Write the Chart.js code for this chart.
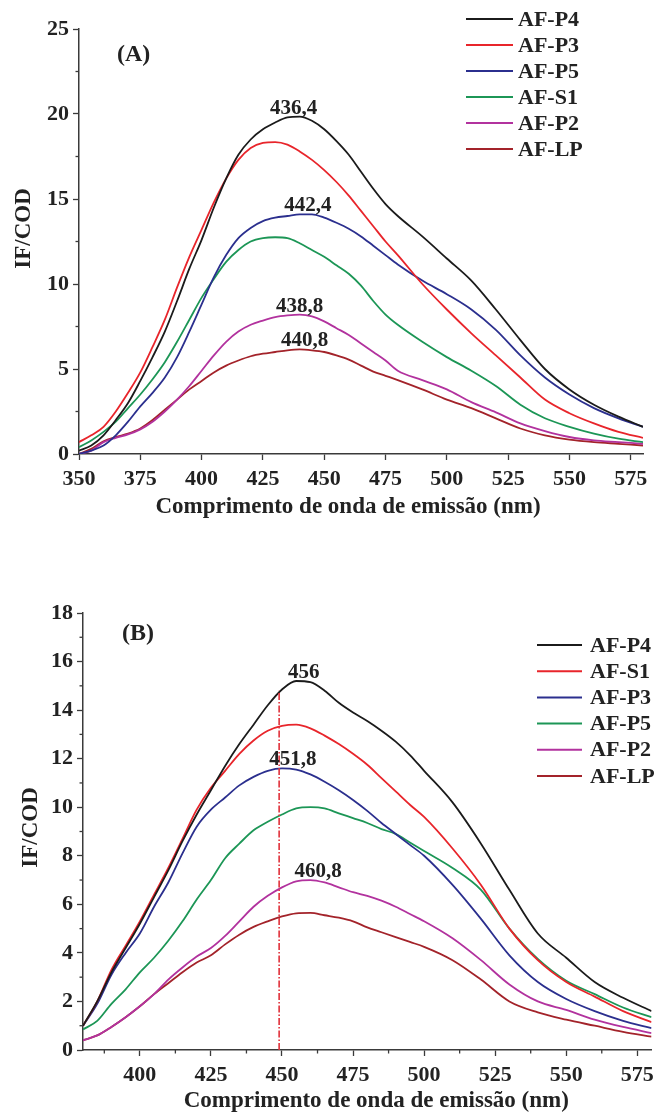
<!DOCTYPE html>
<html>
<head>
<meta charset="utf-8">
<script src="https://cdn.jsdelivr.net/npm/chart.js@4.4.0/dist/chart.umd.min.js"></script>
<style>
  html, body { margin: 0; padding: 0; background: #fff; }
  #wrapA { position: absolute; left: 0; top: 0; width: 660px; height: 520px; }
  #wrapB { position: absolute; left: 0; top: 540px; width: 660px; height: 575px; }
</style>
</head>
<body>
<div id="wrapA"><canvas id="chartA" width="660" height="520"></canvas></div>
<div id="wrapB"><canvas id="chartB" width="660" height="575"></canvas></div>
<script>
// panel (A)
const waveA = [350,355,360,365,370,375,380,385,390,395,400,405,410,415,420,425,430,435,440,445,450,455,460,465,470,475,480,490,500,510,520,530,540,550,560,570,580];
const aP4 = [0.2,0.5,1.1,2.0,3.0,4.3,5.7,7.2,9.0,10.9,12.6,14.5,16.2,17.6,18.5,19.1,19.5,19.8,19.85,19.6,19.1,18.4,17.6,16.6,15.6,14.7,14.0,12.8,11.5,10.2,8.5,6.7,5.0,3.8,2.9,2.2,1.6];
const aP3 = [0.7,1.1,1.6,2.5,3.6,4.8,6.3,7.9,9.8,11.6,13.2,14.8,16.2,17.3,18.0,18.3,18.35,18.2,17.8,17.3,16.7,16.0,15.2,14.3,13.4,12.5,11.7,10.0,8.5,7.1,5.8,4.5,3.2,2.4,1.8,1.3,0.95];
const aP5 = [0.0,0.2,0.5,1.1,1.9,2.8,3.6,4.5,5.7,7.2,8.8,10.4,11.7,12.7,13.3,13.7,13.9,14.0,14.1,14.1,13.9,13.6,13.25,12.8,12.25,11.7,11.15,10.2,9.4,8.5,7.3,5.8,4.5,3.5,2.7,2.1,1.6];
const aS1 = [0.4,0.8,1.3,1.9,2.7,3.5,4.4,5.4,6.6,7.9,9.2,10.3,11.3,12.0,12.5,12.7,12.75,12.7,12.4,12.0,11.6,11.1,10.6,9.9,9.0,8.2,7.6,6.6,5.7,4.9,4.0,2.9,2.1,1.6,1.2,0.9,0.7];
const aP2 = [0.0,0.2,0.7,0.95,1.15,1.45,1.9,2.5,3.2,4.0,4.9,5.8,6.6,7.2,7.6,7.85,8.05,8.15,8.2,8.1,7.8,7.4,7.0,6.5,6.0,5.5,4.9,4.35,3.8,3.05,2.45,1.8,1.35,1.0,0.8,0.7,0.6];
const aLP = [0.0,0.3,0.75,1.0,1.2,1.5,2.0,2.6,3.2,3.8,4.3,4.8,5.2,5.5,5.75,5.9,6.0,6.1,6.15,6.1,6.0,5.8,5.55,5.2,4.85,4.6,4.35,3.8,3.2,2.7,2.1,1.5,1.1,0.85,0.7,0.6,0.5];
const namesA = ['AF-P4','AF-P3','AF-P5','AF-S1','AF-P2','AF-LP'];
const peakTextA = ['436,4','442,4','438,8','440,8'];
const peakNmA = [437.5, 443.3, 440, 442];
const peakSeriesA = [0, 2, 4, 5];

// panel (B)
const waveB = [380,385,390,395,400,405,410,415,420,425,430,435,440,445,450,455,460,465,470,475,480,485,490,495,500,510,520,530,540,550,560,570,580];
const bP4 = [1.0,2.0,3.2,4.2,5.2,6.3,7.4,8.6,9.7,10.7,11.7,12.6,13.4,14.2,14.85,15.2,15.15,14.8,14.3,13.9,13.55,13.15,12.7,12.15,11.5,10.2,8.5,6.6,4.8,3.8,2.8,2.15,1.6];
const bS1 = [1.0,2.0,3.3,4.3,5.3,6.4,7.5,8.7,9.9,10.8,11.5,12.2,12.75,13.15,13.35,13.4,13.25,12.95,12.6,12.2,11.75,11.2,10.65,10.1,9.6,8.3,6.8,5.0,3.7,2.8,2.2,1.6,1.15];
const bP3 = [1.0,1.9,3.1,4.0,4.8,5.9,6.9,8.1,9.2,9.9,10.4,10.9,11.25,11.5,11.6,11.55,11.35,11.05,10.7,10.3,9.85,9.35,8.9,8.45,8.0,6.8,5.4,3.9,2.8,2.1,1.6,1.2,0.9];
const bP5 = [0.85,1.2,1.9,2.5,3.2,3.8,4.5,5.3,6.2,7.0,7.9,8.5,9.05,9.4,9.7,9.95,10.0,9.95,9.75,9.55,9.35,9.1,8.9,8.55,8.2,7.5,6.6,5.0,3.75,2.85,2.3,1.75,1.35];
const bP2 = [0.4,0.6,0.95,1.35,1.8,2.3,2.9,3.4,3.85,4.2,4.7,5.3,5.9,6.35,6.7,6.95,7.0,6.9,6.7,6.5,6.35,6.15,5.9,5.6,5.3,4.6,3.7,2.7,2.0,1.65,1.25,0.95,0.7];
const bLP = [0.4,0.6,0.95,1.35,1.8,2.3,2.75,3.2,3.6,3.9,4.35,4.75,5.07,5.3,5.5,5.63,5.65,5.55,5.45,5.3,5.05,4.85,4.65,4.45,4.25,3.7,2.9,2.0,1.55,1.25,1.0,0.75,0.55];
const namesB = ['AF-P4','AF-S1','AF-P3','AF-P5','AF-P2','AF-LP'];
const peakTextB = ['456','451,8','460,8'];
const peakNmB = [457.7, 453.8, 462.7];
const peakSeriesB = [0, 2, 4];
const markerNmB = 449;
const markerTopB = 14.8;

const xTitle = 'Comprimento de onda de emissão (nm)';
const yTitle = 'IF/COD';

const colors = ['#1b1b1b', '#e8252b', '#2b2f8e', '#1c9656', '#b2329e', '#a3232a'];
const serif = '"Liberation Serif", "Times New Roman", serif';
const inkColor = '#222';
const axisColor = '#3a3a3a';

const overlay = {
  id: 'overlay',
  afterDatasetsDraw(chart, args, o) {
    const ctx = chart.ctx;
    const xs = chart.scales.x, ys = chart.scales.y;
    const area = chart.chartArea;
    ctx.save();

    // minor ticks halfway between the major ones
    ctx.strokeStyle = axisColor;
    ctx.lineWidth = 1.3;
    const minor = (scale, horizontal) => {
      const t = scale.ticks.map(k => k.value);
      if (t.length < 2) return;
      const step = t[1] - t[0];
      for (let v = t[0] - step / 2; v <= scale.max; v += step) {
        if (v < scale.min) continue;
        const p = scale.getPixelForValue(v);
        ctx.beginPath();
        if (horizontal) { ctx.moveTo(p, area.bottom); ctx.lineTo(p, area.bottom + 3.5); }
        else { ctx.moveTo(area.left, p); ctx.lineTo(area.left - 3.5, p); }
        ctx.stroke();
      }
    };
    if (o.minorX) minor(xs, true);
    if (o.minorY) minor(ys, false);

    // dash-dot marker line
    if (o.markerNm) {
      ctx.strokeStyle = '#e0303a';
      ctx.lineWidth = 1.6;
      ctx.setLineDash([7, 2, 1.5, 2]);
      const px = xs.getPixelForValue(o.markerNm);
      ctx.beginPath();
      ctx.moveTo(px, ys.getPixelForValue(0));
      ctx.lineTo(px, ys.getPixelForValue(o.markerTop));
      ctx.stroke();
      ctx.setLineDash([]);
    }

    // peak labels
    ctx.fillStyle = inkColor;
    ctx.font = 'bold 21px ' + serif;
    ctx.textAlign = 'center';
    ctx.textBaseline = 'alphabetic';
    o.peakText.forEach((txt, i) => {
      const ds = chart.data.datasets[o.peakSeries[i]];
      const top = Math.max(...ds.data.map(d => d.y));
      ctx.fillText(txt, xs.getPixelForValue(o.peakNm[i]), ys.getPixelForValue(top) - 3);
    });

    // axis titles
    ctx.font = 'bold 23px ' + serif;
    ctx.fillText(xTitle, (area.left + area.right) / 2 + o.xTitleDx, o.xTitleY);
    ctx.save();
    ctx.translate(o.yTitleX, (area.top + area.bottom) / 2 + o.yTitleDy);
    ctx.rotate(-Math.PI / 2);
    ctx.textBaseline = 'middle';
    ctx.fillText(yTitle, 0, 0);
    ctx.restore();

    // panel letter
    ctx.font = 'bold 24px ' + serif;
    ctx.textAlign = 'left';
    ctx.textBaseline = 'middle';
    ctx.fillText(o.panel, area.left + o.panelDx, area.top + o.panelDy);

    // legend inside the plot
    ctx.font = 'bold 22px ' + serif;
    chart.data.datasets.forEach((ds, i) => {
      const y = o.legY + i * o.legRow;
      ctx.strokeStyle = ds.borderColor;
      ctx.lineWidth = 2;
      ctx.beginPath();
      ctx.moveTo(o.legX0, y);
      ctx.lineTo(o.legX1, y);
      ctx.stroke();
      ctx.fillStyle = inkColor;
      ctx.fillText(ds.label, o.legText, y + 1);
    });
    ctx.restore();
  }
};

function makeChart(id, wave, series, names, cfg) {
  const datasets = series.map((vals, i) => ({
    label: names[i],
    data: wave.map((w, j) => ({ x: w, y: vals[j] })),
    borderColor: colors[i],
    borderWidth: 1.8,
    pointRadius: 0,
    fill: false,
    cubicInterpolationMode: 'monotone'
  }));
  const tickFont = { family: serif, size: 22, weight: 'bold' };
  return new Chart(document.getElementById(id), {
    type: 'line',
    data: { datasets },
    options: {
      responsive: false,
      animation: false,
      events: [],
      layout: { padding: { top: cfg.padTop, right: cfg.padRight, left: 0, bottom: 0 } },
      plugins: {
        legend: { display: false },
        tooltip: { enabled: false },
        overlay: cfg.overlay
      },
      scales: {
        x: {
          type: 'linear',
          min: cfg.xMin, max: cfg.xMax,
          ticks: { color: inkColor, font: tickFont, padding: 6, maxRotation: 0, autoSkip: false },
          afterBuildTicks: s => {
            const t = [];
            for (let v = Math.ceil(s.min / 25) * 25; v <= s.max; v += 25) t.push({ value: v });
            s.ticks = t;
          },
          afterFit: s => { s.height = cfg.xHeight; },
          grid: { drawOnChartArea: false, drawTicks: true, tickLength: 6, color: axisColor, tickWidth: 1.3 },
          border: { display: true, color: axisColor, width: 1.5 },
          title: { display: false }
        },
        y: {
          min: 0, max: cfg.yMax,
          ticks: { stepSize: cfg.yStep, color: inkColor, font: tickFont, padding: 4 },
          afterFit: s => { s.width = cfg.yWidth; },
          grid: { drawOnChartArea: false, drawTicks: true, tickLength: 6, color: axisColor, tickWidth: 1.3 },
          border: { display: true, color: axisColor, width: 1.5 },
          title: { display: false }
        }
      }
    },
    plugins: [overlay]
  });
}

makeChart('chartA', waveA, [aP4, aP3, aP5, aS1, aP2, aLP], namesA, {
  padTop: 29, padRight: 17, xMin: 350, xMax: 580, xHeight: 66,
  yMax: 25, yStep: 5, yWidth: 79,
  overlay: {
    minorX: false, minorY: true,
    peakText: peakTextA, peakNm: peakNmA, peakSeries: peakSeriesA,
    xTitleDx: -13, xTitleY: 513, yTitleX: 24, yTitleDy: -13,
    panel: '(A)', panelDx: 38, panelDy: 26,
    legX0: 466, legX1: 513, legText: 518, legY: 19, legRow: 26
  }
});

makeChart('chartB', waveB, [bP4, bS1, bP3, bP5, bP2, bLP], namesB, {
  padTop: 73, padRight: 8, xMin: 380, xMax: 580, xHeight: 65,
  yMax: 18, yStep: 2, yWidth: 83,
  overlay: {
    minorX: true, minorY: true,
    markerNm: markerNmB, markerTop: markerTopB,
    peakText: peakTextB, peakNm: peakNmB, peakSeries: peakSeriesB,
    xTitleDx: 9, xTitleY: 567, yTitleX: 31, yTitleDy: -4,
    panel: '(B)', panelDx: 39, panelDy: 21,
    legX0: 537, legX1: 582, legText: 590, legY: 105, legRow: 26.2
  }
});
</script>
</body>
</html>
